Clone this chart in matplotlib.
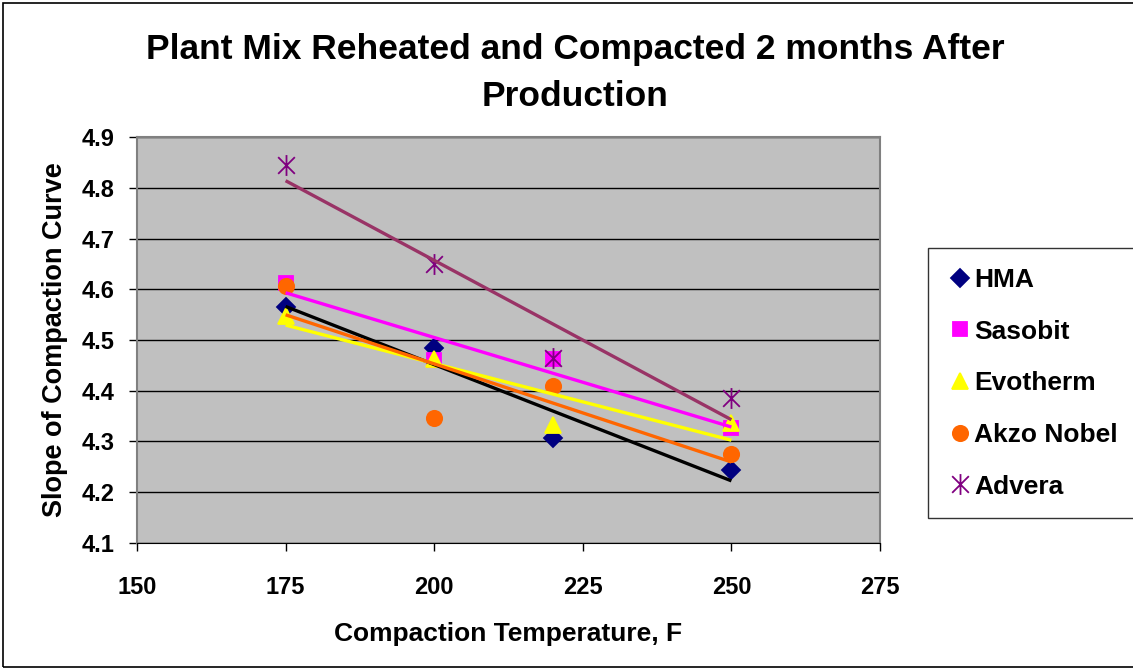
import numpy as np
import matplotlib
matplotlib.use("Agg")
import matplotlib.pyplot as plt
from matplotlib.path import Path
from matplotlib.lines import Line2D
from matplotlib.patches import Rectangle

plt.rcParams['font.family'] = ['Liberation Sans', 'DejaVu Sans']
plt.rcParams['font.weight'] = 'bold'

temps = [175, 200, 220, 250]
series_names = ["HMA", "Sasobit", "Evotherm", "Akzo Nobel", "Advera"]
hma = [4.566, 4.484, 4.306, 4.244]
sasobit = [4.612, 4.460, 4.462, 4.327]
evotherm = [4.548, 4.462, 4.333, 4.336]
akzo = [4.607, 4.347, 4.409, 4.275]
advera = [4.845, 4.650, 4.465, 4.385]

x_ticks = [150, 175, 200, 225, 250, 275]
y_ticks = [4.1, 4.2, 4.3, 4.4, 4.5, 4.6, 4.7, 4.8, 4.9]

# Excel-style asterisk marker: vertical line plus an X
ast_verts = [(0, -1), (0, 1), (-0.8, -0.8), (0.8, 0.8), (-0.8, 0.8), (0.8, -0.8)]
ast_codes = [Path.MOVETO, Path.LINETO] * 3
asterisk = Path(ast_verts, ast_codes)

styles = [
    dict(marker='D', mfc='#000080', mec='#000080', ms=9, line='#000000'),
    dict(marker='s', mfc='#FF00FF', mec='#FF00FF', ms=10, line='#FF00FF'),
    dict(marker='^', mfc='#FFFF00', mec='#FFFF00', ms=11, line='#FFFF00'),
    dict(marker='o', mfc='#FF6600', mec='#FF6600', ms=11, line='#FF6600'),
    dict(marker=asterisk, mfc='none', mec='#800080', ms=15, line='#993366'),
]
data = [hma, sasobit, evotherm, akzo, advera]

fig = plt.figure(figsize=(11.33, 6.70), dpi=100)
ax = fig.add_axes([137/1133, 1 - 543/670, (880 - 137)/1133, (543 - 137)/670])
ax.set_facecolor('#C0C0C0')

handles = []
for name, vals, st in zip(series_names, data, styles):
    ax.plot(temps, vals, linestyle='none', marker=st['marker'], markersize=st['ms'],
            markerfacecolor=st['mfc'], markeredgecolor=st['mec'], markeredgewidth=1.3,
            zorder=3)
    handles.append(Line2D([], [], linestyle='none', marker=st['marker'], markersize=st['ms'],
                          markerfacecolor=st['mfc'], markeredgecolor=st['mec'],
                          markeredgewidth=1.3, label=name))

for vals, st in zip(data, styles):
    coef = np.polyfit(temps, vals, 1)
    xs = np.array([min(temps), max(temps)])
    ax.plot(xs, np.polyval(coef, xs), color=st['line'], lw=2.4, zorder=4,
            solid_capstyle='butt')

ax.set_xlim(150, 275)
ax.set_ylim(4.1, 4.9)
ax.set_xticks(x_ticks)
ax.set_yticks(y_ticks)
ax.set_xticklabels([str(t) for t in x_ticks], fontsize=17, fontweight='bold')
ax.set_yticklabels([f"{t:.1f}" for t in y_ticks], fontsize=17, fontweight='bold')
ax.yaxis.grid(True, color='#000000', lw=1.0)
ax.set_axisbelow(True)
ax.tick_params(axis='x', direction='out', length=6, width=1, pad=18)
ax.tick_params(axis='y', direction='out', length=6, width=1, pad=10)
for side in ['top', 'right', 'left']:
    ax.spines[side].set_color('#808080')
    ax.spines[side].set_linewidth(1.5)
ax.spines['bottom'].set_color('#000000')

ax.set_xlabel("Compaction Temperature, F", fontsize=19, fontweight='bold', labelpad=16)
ax.set_ylabel("Slope of Compaction Curve", fontsize=19.5, fontweight='bold', labelpad=10)

fig.text(575/1133, 1 - 50/670, "Plant Mix Reheated and Compacted 2 months After",
         ha='center', va='center', fontsize=25.5, fontweight='bold')
fig.text(575/1133, 1 - 96/670, "Production",
         ha='center', va='center', fontsize=25.5, fontweight='bold')

leg = fig.legend(handles=handles, loc='upper left',
                 bbox_to_anchor=(928/1133, 1 - 248/670), frameon=True,
                 fancybox=False, edgecolor='#000000', fontsize=19,
                 labelspacing=1.05, handletextpad=0.1, borderpad=0.75,
                 handlelength=0.9, borderaxespad=0)
leg.get_frame().set_linewidth(1.0)
for t in leg.get_texts():
    t.set_fontweight('bold')

fig.patches.append(Rectangle((3/1133, 3/670), 1.2, 1 - 6/670, transform=fig.transFigure,
                             fill=False, edgecolor='#000000', lw=1.2))

fig.savefig("out.png", dpi=100)
